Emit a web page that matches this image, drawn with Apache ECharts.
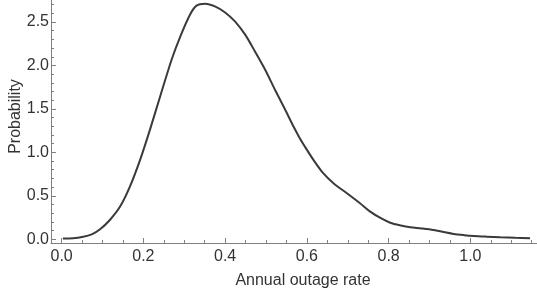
<!DOCTYPE html>
<html><head><meta charset="utf-8">
<script src="https://cdn.jsdelivr.net/npm/echarts@6/dist/echarts.min.js"></script>
<style>html,body{margin:0;padding:0;background:#fff}#c{width:537px;height:292px}</style>
</head><body><div id="c"></div>
<script>
const xVals = [0.003,0.028,0.05,0.075,0.094,0.118,0.143,0.167,0.192,0.216,0.241,0.269,0.29,0.314,0.33,0.351,0.375,0.40,0.424,0.449,0.473,0.498,0.522,0.547,0.567,0.583,0.6,0.616,0.640,0.665,0.698,0.730,0.755,0.78,0.804,0.83,0.853,0.88,0.91,0.935,0.959,0.985,1.008,1.04,1.073,1.11,1.146];
const yVals = [0.01,0.013,0.027,0.06,0.115,0.222,0.376,0.606,0.914,1.259,1.643,2.066,2.33,2.584,2.688,2.711,2.68,2.61,2.507,2.354,2.161,1.95,1.72,1.49,1.30,1.16,1.03,0.914,0.76,0.645,0.53,0.415,0.318,0.245,0.19,0.158,0.138,0.125,0.107,0.083,0.061,0.047,0.038,0.03,0.023,0.017,0.012];
const xMajor = [0,0.2,0.4,0.6,0.8,1.0];
const xMinor = [0.05,0.1,0.15,0.25,0.3,0.35,0.45,0.5,0.55,0.65,0.7,0.75,0.85,0.9,0.95,1.05,1.1,1.15];
const yMajor = [0,0.5,1.0,1.5,2.0,2.5];
const yMinor = [0.1,0.2,0.3,0.4,0.6,0.7,0.8,0.9,1.1,1.2,1.3,1.4,1.6,1.7,1.8,1.9,2.1,2.2,2.3,2.4,2.6,2.7];
const xName = 'Annual outage rate';
const yName = 'Probability';

const axisCol = '#808080';
const font = 'Arial, "Liberation Sans", sans-serif';
const chart = echarts.init(document.getElementById('c'), null, {renderer:'canvas'});
const xMin=-0.026, xMax=1.163, yMin=-0.043, yMax=2.753;
chart.setOption({
  animation:false,
  grid:{left:51,right:0,top:0,bottom:49,containLabel:false,outerBoundsMode:'none'},
  xAxis:[{
    type:'value',min:xMin,max:xMax,position:'bottom',
    name:xName,nameLocation:'middle',nameGap:30,nameMoveOverlap:false,
    nameTextStyle:{fontSize:16,color:'#333',fontFamily:font,padding:[0,0,0,18]},
    axisLine:{show:true,onZero:false,lineStyle:{color:axisCol,width:1}},
    axisTick:{show:true,inside:true,length:5,customValues:xMajor,lineStyle:{color:axisCol}},
    axisLabel:{show:true,margin:6,customValues:xMajor,fontSize:16,color:'#333',fontFamily:font,formatter:v=>v.toFixed(1)},
    splitLine:{show:false}
  },{
    type:'value',min:xMin,max:xMax,position:'bottom',offset:0,
    axisLine:{show:false,onZero:false},
    axisTick:{show:true,inside:true,length:3,customValues:xMinor,lineStyle:{color:axisCol}},
    axisLabel:{show:false},splitLine:{show:false}
  }],
  yAxis:[{
    type:'value',min:yMin,max:yMax,position:'left',
    name:yName,nameLocation:'middle',nameGap:27,nameMoveOverlap:false,
    nameTextStyle:{fontSize:16,color:'#333',fontFamily:font,padding:[0,0,0,10]},
    axisLine:{show:true,onZero:false,lineStyle:{color:axisCol,width:1}},
    axisTick:{show:true,inside:true,length:5,customValues:yMajor,lineStyle:{color:axisCol}},
    axisLabel:{show:true,margin:2,customValues:yMajor,fontSize:16,color:'#333',fontFamily:font,formatter:v=>v.toFixed(1)},
    splitLine:{show:false}
  },{
    type:'value',min:yMin,max:yMax,position:'left',offset:0,
    axisLine:{show:false,onZero:false},
    axisTick:{show:true,inside:true,length:3,customValues:yMinor,lineStyle:{color:axisCol}},
    axisLabel:{show:false},splitLine:{show:false}
  }],
  series:[{
    type:'line',xAxisIndex:0,yAxisIndex:0,
    data:xVals.map((x,i)=>[x,yVals[i]]),
    smooth:0.3,showSymbol:false,
    lineStyle:{color:'#3a3a3a',width:2}
  }]
});
</script></body></html>
